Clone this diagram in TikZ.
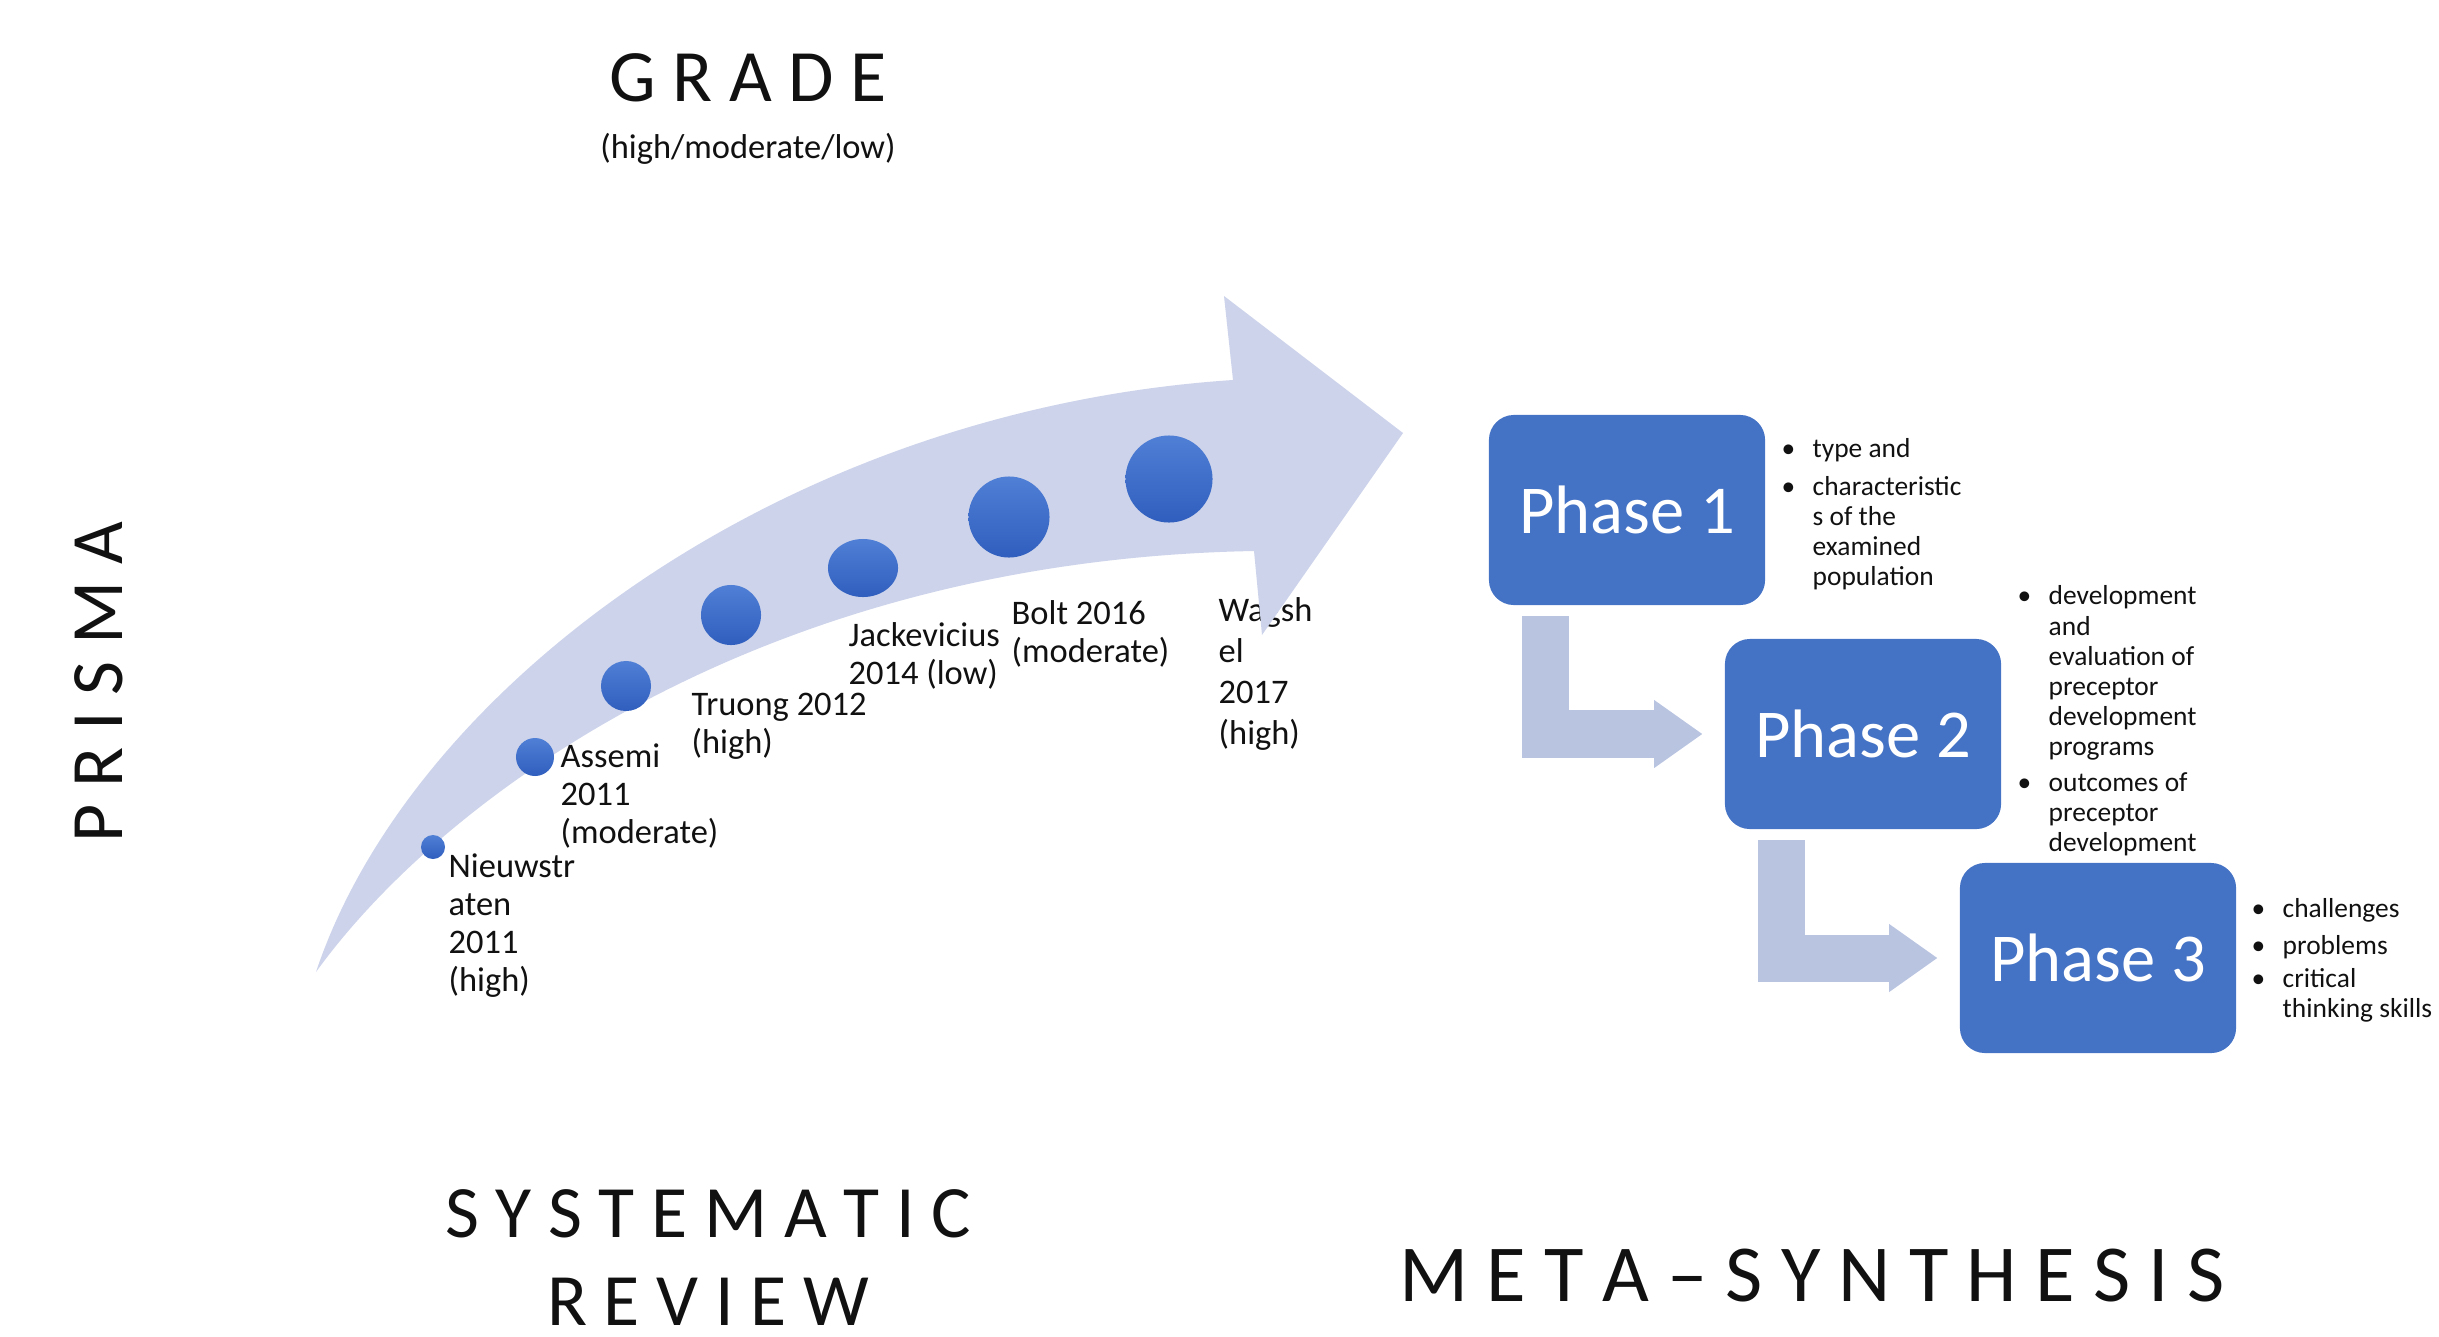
\documentclass[tikz,border=0pt]{standalone}
\usepackage{fontspec}
\setmainfont{Carlito}
\usepackage{tikz}
\usetikzlibrary{arrows.meta,positioning,shapes.geometric}
\definecolor{cArrow}{HTML}{CCD3EA}
\definecolor{cElbow}{HTML}{B9C4E1}
\definecolor{cPhase}{HTML}{4472C4}
\definecolor{cDotHi}{HTML}{507FD6}
\definecolor{cDotLo}{HTML}{2F5EBE}
\definecolor{cInk}{HTML}{111111}
\newcommand{\nbul}{\makebox[0.31cm][l]{\textbullet}}
\newcommand{\nind}{\hspace*{0.31cm}}
\tikzset{
  title/.style ={font=\fontsize{21}{25}\selectfont,text=cInk,inner sep=0pt},
  sub/.style   ={font=\fontsize{9.8}{11}\selectfont,text=cInk,inner sep=0pt},
  dot/.style   ={circle,top color=cDotHi,bottom color=cDotLo,inner sep=0pt},
  yr/.style    ={font=\fontsize{9.8}{10.8}\selectfont,text=cInk,align=left,
                 anchor=north west,inner sep=0pt},
  phase/.style ={rounded corners=2.5mm,fill=cPhase,text=white,
                 minimum width=2.76cm,minimum height=1.9cm,
                 font=\fontsize{19.5}{23}\selectfont},
  note/.style  ={font=\fontsize{7.8}{8.6}\selectfont,text=cInk,align=left,
                 anchor=north west,inner sep=0pt},
  elbow/.style ={draw=cElbow,line width=4.7mm,
                 -{Triangle[length=4.8mm,width=6.8mm,line width=0pt]}},
}

\begin{document}
\begin{tikzpicture}[x=0.01cm,y=-0.01cm]
\useasboundingbox (0,0) rectangle (2439,1336);

% headings around the timeline
\node[title] (grade) at (748,78) {G R A D E};
\node[sub,below=3mm of grade] (scale) {(high/moderate/low)};
\node[title,rotate=90] (prisma) at (99,682) {P R I S M A};
\node[title] (sys) at (708,1214) {S Y S T E M A T I C};
\node[title,below=3.8mm of sys] (rev) {R E V I E W};
\node[title,font=\fontsize{23}{27}\selectfont] (meta) at (1812,1276)
  {M E T A – S Y N T H E S I S};

% last study sits partly under the arrow head
\node[yr,font=\fontsize{9.8}{11.6}\selectfont] (l7) at (1218,597) {Wagsh\\el\\2017\\(high)};

% curved timeline arrow
\fill[cArrow] (316,972) .. controls (410,690) and (780,410) .. (1233,380)
  -- (1224,296) -- (1403,433) -- (1262,635) -- (1254,551)
  .. controls (760,560) and (440,800) .. (316,972) -- cycle;

% studies, growing along the arrow
\node[dot,minimum size=2.4mm] (d1) at (433,847) {};
\node[dot,minimum size=3.8mm] (d2) at (535,757) {};
\node[dot,minimum size=5.0mm] (d3) at (626,686) {};
\node[dot,minimum size=6.0mm] (d4) at (731,615) {};
\node[dot,ellipse,minimum width=7mm,minimum height=5.8mm] (d5) at (863,568) {};
\node[dot,minimum size=8.1mm] (d6) at (1009,517) {};
\node[dot,minimum size=8.7mm] (d7) at (1169,479) {};

\node[yr] (l1) at (448,853) {Nieuwstr\\aten\\2011\\(high)};
\node[yr] (l2) at (560,743) {Assemi\\2011\\(moderate)};
\node[yr] (l3) at (691,692) {Truong 2012\\(high)};
\node[yr] (l4) at (848,622) {Jackevicius\\2014 (low)};
\node[yr] (l5) at (1011,600) {Bolt 2016\\(moderate)};

% right: phases of the synthesis
\node[phase] (p1) at (1627,510) {Phase 1};
\node[phase] (p2) at (1863,734) {Phase 2};
\node[phase] (p3) at (2098,958) {Phase 3};

\draw[elbow] ([xshift=-8.1mm,yshift=-1mm]p1.south) |- ([xshift=-2.2mm]p2.west);
\draw[elbow] ([xshift=-8.1mm,yshift=-1mm]p2.south) |- ([xshift=-2.2mm]p3.west);

\node[note] (n1) at (1781,438) {\nbul type and\\[0.7mm]\nbul characteristic\\\nind s of the\\
  \nind examined\\\nind population};
\node[note] (n2) at (2017,585) {\nbul development\\\nind and\\\nind evaluation of\\
  \nind preceptor\\\nind development\\\nind programs\\[0.5mm]\nbul outcomes of\\
  \nind preceptor\\\nind development};
\node[note] (n3) at (2251,898) {\nbul challenges\\[0.6mm]\nbul problems\\[0.3mm]
  \nbul critical\\\nind thinking skills};
\end{tikzpicture}
\end{document}
